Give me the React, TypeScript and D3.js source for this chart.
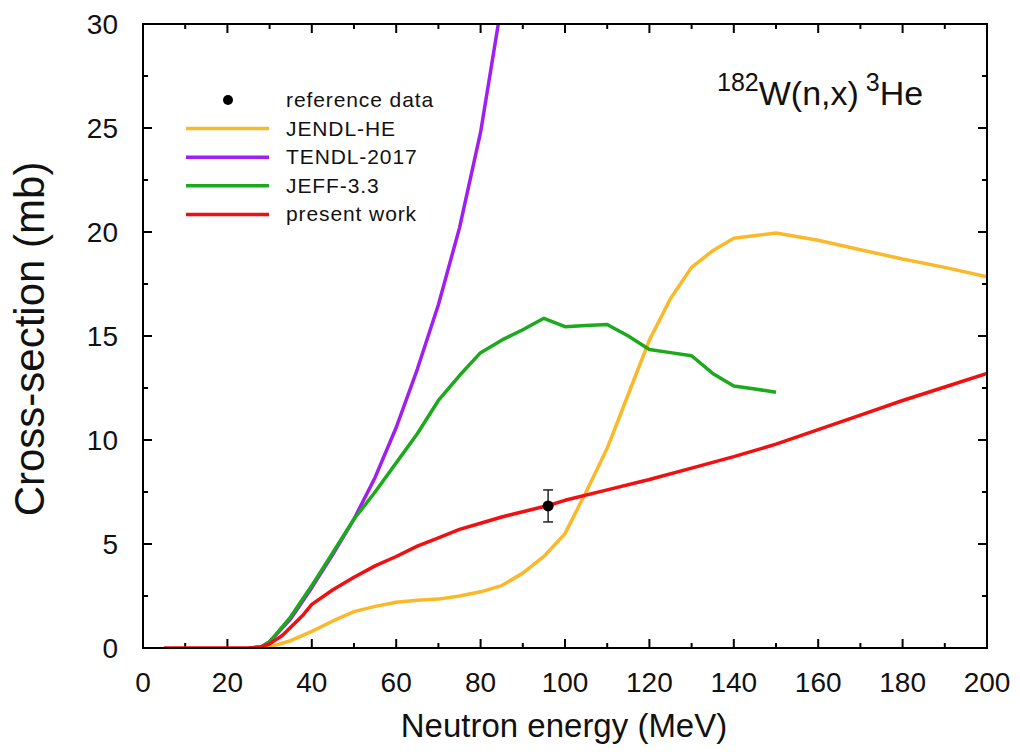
import React from "react";
import * as d3 from "d3";

const jendlE = [28, 30, 35, 40, 45, 50, 55, 60, 65, 70, 75, 80, 85, 90, 95, 100, 105, 110, 115, 120, 125, 130, 135, 140, 150, 160, 170, 180, 190, 200];
const jendlXS = [0, 0.05, 0.35, 0.8, 1.3, 1.75, 2.0, 2.2, 2.3, 2.35, 2.5, 2.7, 3.0, 3.6, 4.4, 5.5, 7.5, 9.6, 12.2, 14.8, 16.8, 18.3, 19.1, 19.7, 19.95, 19.6, 19.15, 18.7, 18.3, 17.85];

const tendlE = [25, 28, 30, 35, 40, 45, 50, 55, 60, 65, 70, 75, 80, 85];
const tendlXS = [0, 0.05, 0.3, 1.4, 2.9, 4.5, 6.2, 8.2, 10.6, 13.4, 16.5, 20.2, 24.8, 31];

const jeffE = [25, 28, 30, 35, 40, 45, 50, 55, 60, 65, 70, 75, 80, 85, 90, 95, 100, 105, 110, 115, 120, 125, 130, 135, 140, 145, 150];
const jeffXS = [0, 0.05, 0.3, 1.5, 3.0, 4.6, 6.2, 7.5, 8.9, 10.3, 11.9, 13.1, 14.2, 14.8, 15.3, 15.85, 15.45, 15.5, 15.55, 15.0, 14.35, 14.2, 14.05, 13.2, 12.6, 12.45, 12.3];

const presentE = [5, 25, 28, 30, 33, 35, 38, 40, 45, 50, 55, 60, 65, 70, 75, 80, 85, 90, 96, 100, 110, 120, 130, 140, 150, 160, 170, 180, 190, 200];
const presentXS = [0, 0, 0.05, 0.2, 0.6, 1.0, 1.6, 2.1, 2.8, 3.4, 3.95, 4.4, 4.9, 5.3, 5.7, 6.0, 6.3, 6.55, 6.85, 7.1, 7.6, 8.1, 8.65, 9.2, 9.8, 10.5, 11.2, 11.9, 12.55, 13.2];

const refE = [96];
const refXS = [6.83];
const refErrLo = [6.06];
const refErrHi = [7.6];

const xTicks = [0, 20, 40, 60, 80, 100, 120, 140, 160, 180, 200];
const xMinor = [10, 30, 50, 70, 90, 110, 130, 150, 170, 190];
const yTicks = [0, 5, 10, 15, 20, 25, 30];
const yMinor = [2.5, 7.5, 12.5, 17.5, 22.5, 27.5];

const seriesNames = ["JENDL-HE", "TENDL-2017", "JEFF-3.3", "present work"];
const seriesColors = ["#FBB829", "#A01EF0", "#1CAA1C", "#F01010"];

const W = 1020;
const H = 755;
const L = 143, R = 987, T = 24, B = 648;

export default function App() {
  const x = d3.scaleLinear().domain([0, 200]).range([L, R]);
  const y = d3.scaleLinear().domain([0, 30]).range([B, T]);
  const line = d3
    .line<[number, number]>()
    .x((d) => x(d[0]))
    .y((d) => y(d[1]));

  const zip = (a: number[], b: number[]) => a.map((v, i) => [v, b[i]] as [number, number]);
  const series = [
    zip(jendlE, jendlXS),
    zip(tendlE, tendlXS),
    zip(jeffE, jeffXS),
    zip(presentE, presentXS),
  ];

  const font = "'Liberation Sans', Arial, sans-serif";
  const legendY0 = 100;
  const legendStep = 28.6;

  return (
    <svg
      width={W}
      height={H}
      style={{ position: "absolute", left: 0, top: 0, background: "#fff" }}
      fontFamily={font}
    >
      <defs>
        <clipPath id="plotclip">
          <rect x={L} y={T} width={R - L} height={B - T} />
        </clipPath>
      </defs>
      <rect x={0} y={0} width={W} height={H} fill="#fff" />

      {/* ticks */}
      <g stroke="#000" strokeWidth={2}>
        {xTicks.map((t) => (
          <g key={"xt" + t}>
            <line x1={x(t)} x2={x(t)} y1={B} y2={B - 9} />
            <line x1={x(t)} x2={x(t)} y1={T} y2={T + 9} />
          </g>
        ))}
        {xMinor.map((t) => (
          <g key={"xm" + t}>
            <line x1={x(t)} x2={x(t)} y1={B} y2={B - 5} />
            <line x1={x(t)} x2={x(t)} y1={T} y2={T + 5} />
          </g>
        ))}
        {yTicks.map((t) => (
          <g key={"yt" + t}>
            <line x1={L} x2={L + 9} y1={y(t)} y2={y(t)} />
            <line x1={R} x2={R - 9} y1={y(t)} y2={y(t)} />
          </g>
        ))}
        {yMinor.map((t) => (
          <g key={"ym" + t}>
            <line x1={L} x2={L + 5} y1={y(t)} y2={y(t)} />
            <line x1={R} x2={R - 5} y1={y(t)} y2={y(t)} />
          </g>
        ))}
      </g>

      {/* tick labels */}
      <g fontSize={28} fill="#111">
        {xTicks.map((t) => (
          <text key={"xl" + t} x={x(t)} y={692} textAnchor="middle">
            {t}
          </text>
        ))}
        {yTicks.map((t) => (
          <text key={"yl" + t} x={118} y={y(t) + 10} textAnchor="end">
            {t}
          </text>
        ))}
      </g>

      {/* axis titles */}
      <text x={(L + R) / 2 - 1} y={737} textAnchor="middle" fontSize={33} fill="#111">
        Neutron energy (MeV)
      </text>
      <text
        transform={`translate(44, ${(T + B) / 2 + 3}) rotate(-90)`}
        textAnchor="middle"
        fontSize={42}
        fill="#111"
      >
        Cross-section (mb)
      </text>

      {/* series */}
      <g clipPath="url(#plotclip)" fill="none" strokeWidth={3.5} strokeLinejoin="round">
        {series.map((s, i) => (
          <path key={seriesNames[i]} d={line(s) || ""} stroke={seriesColors[i]} />
        ))}
      </g>

      {/* reference data */}
      {refE.map((e, i) => (
        <g key={"ref" + i} stroke="#222" strokeWidth={1.5}>
          <line x1={x(e)} x2={x(e)} y1={y(refErrLo[i])} y2={y(refErrHi[i])} />
          <line x1={x(e) - 5} x2={x(e) + 5} y1={y(refErrLo[i])} y2={y(refErrLo[i])} />
          <line x1={x(e) - 5} x2={x(e) + 5} y1={y(refErrHi[i])} y2={y(refErrHi[i])} />
          <circle cx={x(e)} cy={y(refXS[i])} r={5.5} fill="#000" stroke="none" />
        </g>
      ))}

      {/* frame */}
      <rect x={L} y={T} width={R - L} height={B - T} fill="none" stroke="#000" strokeWidth={2} />

      {/* legend */}
      <g fontSize={21} fill="#111" letterSpacing={0.9}>
        <circle cx={228} cy={legendY0} r={5} fill="#000" />
        <text x={286} y={legendY0 + 7}>reference data</text>
        {seriesNames.map((n, i) => {
          const yy = legendY0 + legendStep * (i + 1);
          return (
            <g key={"lg" + n}>
              <line x1={186} x2={269} y1={yy} y2={yy} stroke={seriesColors[i]} strokeWidth={3.5} />
              <text x={286} y={yy + 7}>{n}</text>
            </g>
          );
        })}
      </g>

      {/* title */}
      <text x={717} y={105} fontSize={34} fill="#111">
        <tspan fontSize={25} dy={-14}>182</tspan>
        <tspan dy={14}>W(n,x)</tspan>
        <tspan fontSize={25} dy={-14}> 3</tspan>
        <tspan dy={14}>He</tspan>
      </text>
    </svg>
  );
}
